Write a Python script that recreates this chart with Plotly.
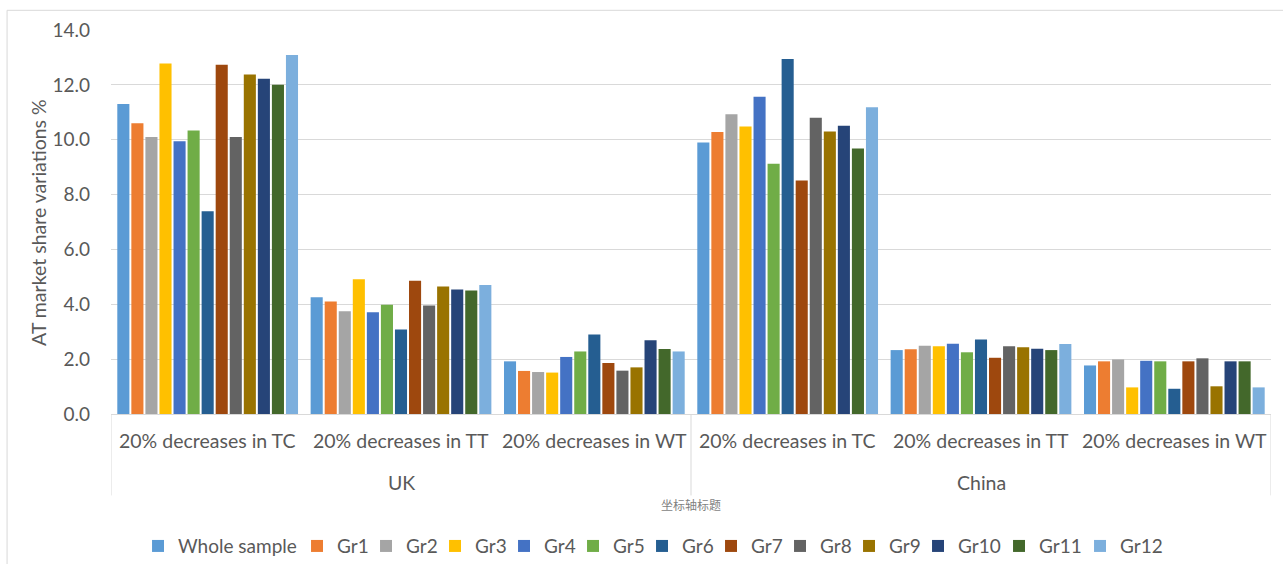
import plotly.graph_objects as go

# Scenario labels (inner level) and countries (outer level)
scenarios = ["20% decreases in TC", "20% decreases in TT", "20% decreases in WT"]
countries = ["UK", "China"]

# AT market share variations (%) per group, order: UK TC, TT, WT, China TC, TT, WT
whole_sample = [11.30, 4.26, 1.92, 9.90, 2.33, 1.77]
gr1 = [10.60, 4.10, 1.57, 10.28, 2.36, 1.92]
gr2 = [10.10, 3.75, 1.53, 10.93, 2.49, 1.99]
gr3 = [12.78, 4.91, 1.51, 10.48, 2.47, 0.97]
gr4 = [9.94, 3.71, 2.08, 11.57, 2.56, 1.94]
gr5 = [10.34, 3.98, 2.28, 9.12, 2.25, 1.92]
gr6 = [7.39, 3.08, 2.90, 12.94, 2.72, 0.92]
gr7 = [12.73, 4.86, 1.86, 8.51, 2.05, 1.92]
gr8 = [10.10, 3.96, 1.58, 10.80, 2.47, 2.03]
gr9 = [12.38, 4.65, 1.70, 10.30, 2.43, 1.01]
gr10 = [12.22, 4.54, 2.69, 10.51, 2.38, 1.92]
gr11 = [12.00, 4.50, 2.37, 9.68, 2.33, 1.92]
gr12 = [13.09, 4.70, 2.28, 11.18, 2.55, 0.97]

series_names = ["Whole sample", "Gr1", "Gr2", "Gr3", "Gr4", "Gr5", "Gr6",
                "Gr7", "Gr8", "Gr9", "Gr10", "Gr11", "Gr12"]
series_values = [whole_sample, gr1, gr2, gr3, gr4, gr5, gr6,
                 gr7, gr8, gr9, gr10, gr11, gr12]
series_colors = ["#5B9BD5", "#ED7D31", "#A5A5A5", "#FFC000", "#4472C4",
                 "#70AD47", "#255E91", "#9E480E", "#636363", "#997300",
                 "#264478", "#43682B", "#7CAFDD"]

FONT = "Lato, Carlito, Calibri, sans-serif"
TEXT = "#595959"
GRID = "#D9D9D9"

# One slot per (country, scenario) pair on a numeric axis
slots = [(c, s) for c in countries for s in scenarios]
xpos = list(range(len(slots)))


def legend_space(name):
    # compact legend entries sized to their label
    if name == "Whole sample":
        return 114
    if name == series_names[-1]:
        return 42
    return 36 if len(name) > 3 else 24


fig = go.Figure()
for name, vals, col in zip(series_names, series_values, series_colors):
    fig.add_trace(go.Bar(
        x=xpos, y=vals, name=name,
        marker=dict(color=col, line=dict(width=0)),
        legendwidth=legend_space(name),
    ))

annotations = []
# inner category labels
for i, (c, s) in enumerate(slots):
    annotations.append(dict(
        x=i, xref="x", y=-0.068, yref="paper", text=s, showarrow=False,
        xanchor="center", yanchor="middle",
        font=dict(family=FONT, size=19.5, color=TEXT),
    ))
# outer country labels
n_s = len(scenarios)
for k, c in enumerate(countries):
    annotations.append(dict(
        x=k * n_s + (n_s - 1) / 2, xref="x", y=-0.178, yref="paper", text=c,
        showarrow=False, xanchor="center", yanchor="middle",
        font=dict(family=FONT, size=19.5, color=TEXT),
    ))
# x axis title placeholder
annotations.append(dict(
    x=0.5, xref="paper", y=-0.236, yref="paper", text="坐标轴标题",
    showarrow=False, xanchor="center", yanchor="middle",
    font=dict(family="Noto Sans CJK SC, sans-serif", size=12, color="#7F7F7F"),
))
# y axis title
annotations.append(dict(
    x=-0.063, xref="paper", y=0.5, yref="paper",
    text="AT market share variations %", textangle=-90, showarrow=False,
    xanchor="center", yanchor="middle",
    font=dict(family=FONT, size=19.5, color=TEXT),
))

shapes = []
# group dividers below the axis
for k in range(len(countries) + 1):
    shapes.append(dict(
        type="line", xref="x", yref="paper",
        x0=k * n_s - 0.5, x1=k * n_s - 0.5, y0=0, y1=-0.212,
        line=dict(color=GRID, width=1),
    ))
# chart frame
shapes.append(dict(
    type="rect", xref="paper", yref="paper",
    x0=-0.0896, x1=1.2, y0=-0.6, y1=1.0513,
    line=dict(color=GRID, width=1), fillcolor="rgba(0,0,0,0)", layer="below",
))

fig.update_layout(
    width=1283, height=564,
    margin=dict(l=111, r=12, t=30, b=150, autoexpand=False),
    paper_bgcolor="white", plot_bgcolor="white",
    barmode="group", bargap=0.055, bargroupgap=0.14,
    font=dict(family=FONT, color=TEXT),
    xaxis=dict(
        range=[-0.5, len(slots) - 0.5], showgrid=False, zeroline=False,
        showticklabels=False, showline=True, linecolor=GRID, linewidth=1,
        ticks="",
    ),
    yaxis=dict(
        range=[0, 14], dtick=2, tickformat=".1f", showgrid=True,
        gridcolor=GRID, gridwidth=1, zeroline=False, showline=False,
        ticks="", ticklabelstandoff=20,
        tickfont=dict(family=FONT, size=19, color=TEXT),
    ),
    legend=dict(
        orientation="h", x=0.0233, xanchor="left", y=-0.344,
        yanchor="middle", font=dict(family=FONT, size=19, color=TEXT),
        itemwidth=30, traceorder="normal",
    ),
    annotations=annotations,
    shapes=shapes,
)

fig.write_html("out.html")
